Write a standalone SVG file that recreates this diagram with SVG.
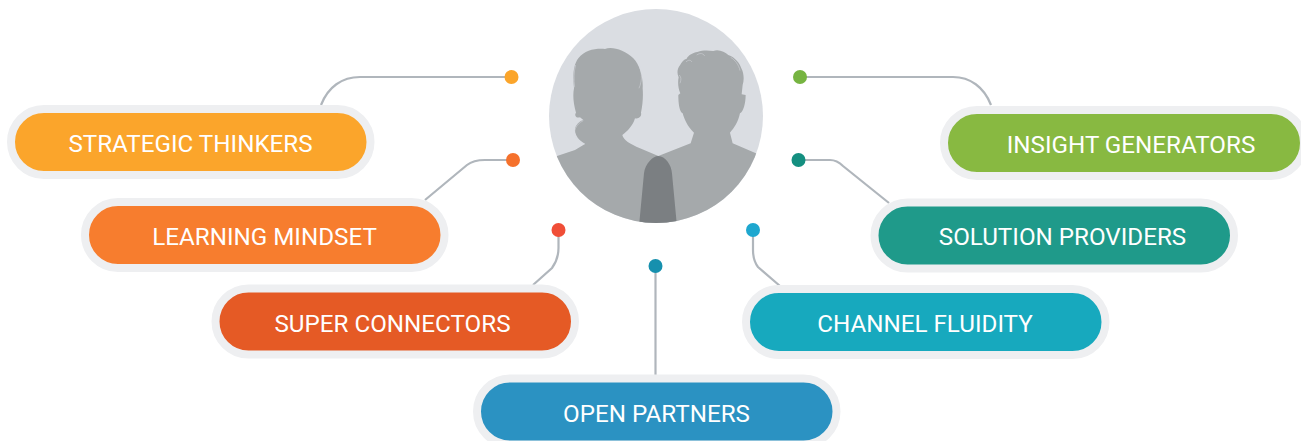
<svg xmlns="http://www.w3.org/2000/svg" width="1301" height="441" viewBox="0 0 1301 441">
<style>
.pill{stroke:#eeeff1;stroke-width:8}
.lbl{font-family:Roboto,"Liberation Sans",sans-serif;font-size:24.2px;fill:#fff;text-anchor:middle}
.con{fill:none;stroke:#b0b6bc;stroke-width:2.200}
.hair{fill:none;stroke:#dadde2;stroke-width:1.400}
</style>
<defs><clipPath id="disc"><circle cx="656" cy="116" r="107"/></clipPath></defs>
<rect width="1301" height="441" fill="#fff"/>
<g id="portrait">
<circle cx="656" cy="116" r="107" fill="#dadde2"/>
<g clip-path="url(#disc)">
<g transform="translate(540 0) scale(.3333)">
<path fill="#a5a9ab" d="M40,472 L105,450 L135,432 C112,420 98,395 108,378 C114,368 122,362 130,360 L120,352 C108,356 102,345 108,338 C100,310 98,285 102,265 C98,225 100,195 115,175 C135,150 165,145 195,147 C215,138 255,150 280,175 C300,195 310,235 308,265 C310,290 308,315 303,338 C306,348 298,358 285,355 C280,375 262,395 247,405 C250,420 270,432 300,445 L355,468 L355,700 L40,700 Z"/>
<path fill="#a5a9ab" d="M355,468 L452,430 L462,398 C442,380 432,355 428,340 C418,335 415,310 415,285 L421,280 C414,265 413,245 416,232 C410,220 412,205 420,196 C425,185 432,178 440,176 C445,165 460,158 472,156 C490,150 505,152 520,153 C535,147 555,155 565,165 C585,172 600,190 604,205 C612,220 613,240 608,255 L605,283 L617,285 C617,310 610,335 600,340 C595,365 582,385 570,398 L578,430 L660,465 L660,700 L355,700 Z"/>
<path fill="#7b7f82" d="M295,700 L312,520 C315,490 340,468 355,468 C375,468 395,495 396,520 L413,700 Z"/>
<path class="hair" d="M130,362 C108,372 98,395 108,412 C115,422 125,428 135,432"/>
<path class="hair" d="M297,265 C308,240 306,215 295,190"/>
<path class="hair" d="M104,262 C101,240 101,215 107,195"/>
<path class="hair" d="M438,186 C446,178 452,180 456,186 M470,165 C480,158 490,160 494,168 M572,172 C585,180 597,195 600,212 M418,225 C424,232 424,240 420,250"/>
</g>
</g>
</g>
<g id="connectors">
<path class="con" d="M321,105 C328,87 342,77 360,77 H511"/>
<path class="con" d="M425,200 L467,165 C472,161 478,160 485,160 H513"/>
<path class="con" d="M533,285 L552,268 C557,261 558.500,255 558.500,248 V230"/>
<path class="con" d="M655.500,266 V375"/>
<path class="con" d="M753,230 V250 C753,257 755,263 758,267 L780,286"/>
<path class="con" d="M889,203 L843,166 C839,162 835,160 830,160 H798"/>
<path class="con" d="M991,105 C984,87 970,77 953,77 H800"/>
</g>
<g id="strategic-thinkers"><circle cx="511.500" cy="77" r="7" fill="#fba52b"/><rect class="pill" x="11" y="109" width="359.500" height="66" rx="33" fill="#fba52b"/><text class="lbl" x="190.500" y="152">STRATEGIC THINKERS</text></g>
<g id="learning-mindset"><circle cx="513" cy="160" r="7" fill="#f5712c"/><rect class="pill" x="85" y="202" width="359.500" height="66" rx="33" fill="#f77d2e"/><text class="lbl" x="264.500" y="245">LEARNING MINDSET</text></g>
<g id="super-connectors"><circle cx="558.500" cy="230" r="7" fill="#f04e37"/><rect class="pill" x="215.500" y="288.500" width="359.500" height="66" rx="33" fill="#e55a25"/><text class="lbl" x="392.500" y="332">SUPER CONNECTORS</text></g>
<g id="open-partners"><circle cx="655.500" cy="266" r="7" fill="#1690ae"/><rect class="pill" x="477" y="378.500" width="359.500" height="66" rx="33" fill="#2b92c2"/><text class="lbl" x="656.500" y="422">OPEN PARTNERS</text></g>
<g id="channel-fluidity"><circle cx="753" cy="230" r="7" fill="#1ea7cf"/><rect class="pill" x="746" y="289" width="359.500" height="66" rx="33" fill="#17a9be"/><text class="lbl" x="925" y="332">CHANNEL FLUIDITY</text></g>
<g id="solution-providers"><circle cx="798.500" cy="160" r="7" fill="#148f80"/><rect class="pill" x="874.500" y="202.500" width="359.500" height="66" rx="33" fill="#1f9a8a"/><text class="lbl" x="1062.500" y="245">SOLUTION PROVIDERS</text></g>
<g id="insight-generators"><circle cx="800" cy="77" r="7" fill="#76b441"/><rect class="pill" x="944" y="110" width="360" height="66" rx="33" fill="#88b941"/><text class="lbl" x="1131" y="153">INSIGHT GENERATORS</text></g>
</svg>
